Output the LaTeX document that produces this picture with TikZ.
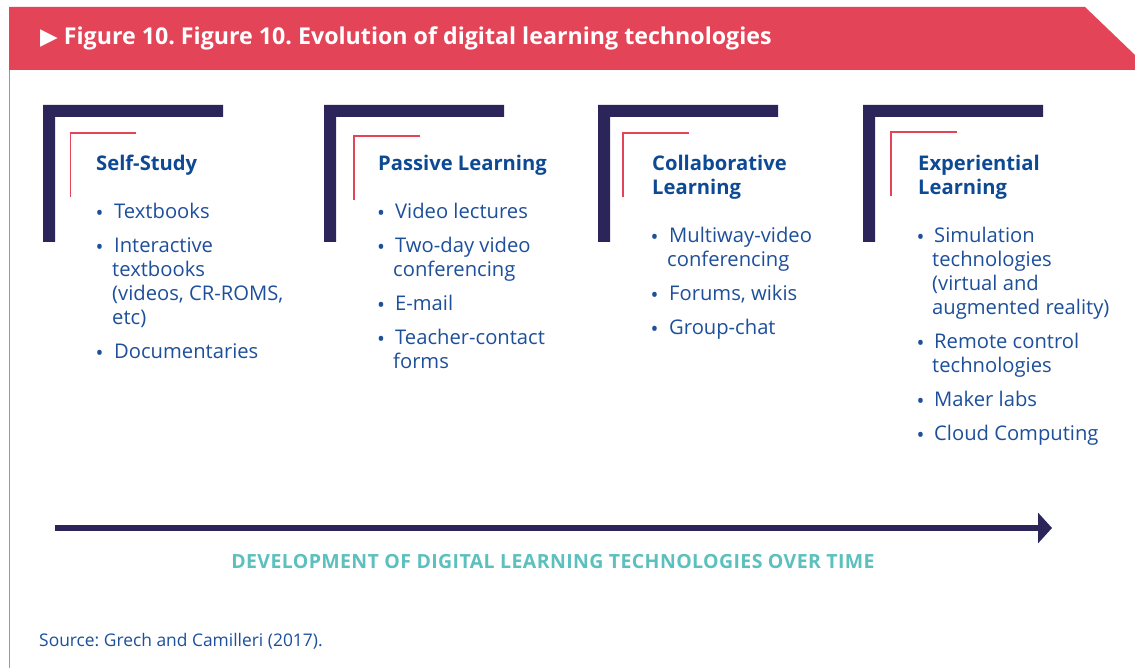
\documentclass[tikz,border=0pt]{standalone}
\usepackage{fontspec}
\setmainfont{Open Sans}
\newfontfamily\symfont{DejaVu Sans}
\usetikzlibrary{arrows.meta}
\frenchspacing
\definecolor{navy}{HTML}{2B2559}
\definecolor{banred}{HTML}{E34457}
\definecolor{txtblue}{HTML}{1D4F9B}
\definecolor{headblue}{HTML}{0E4A94}
\definecolor{tealc}{HTML}{5BC0BE}
\tikzset{
  bracket/.pic={\fill[navy] (0,0) -- (180,0) -- (180,12) -- (12,12) -- (12,137) -- (0,137) -- cycle;},
  redl/.pic={\draw[banred, line width=1.3pt] (0,64) -- (0,0) -- (65.5,0);},
  head/.style={anchor=north west, inner sep=0pt, align=left, text=headblue,
    font=\bfseries\fontsize{20.2}{24}\selectfont},
  item/.style={anchor=north west, inner sep=0pt, align=left, text=txtblue,
    font=\fontsize{20.2}{24}\selectfont},
  bul/.style={anchor=base, inner sep=0pt, text=txtblue, font=\fontsize{21}{24}\selectfont},
}
\begin{document}
\begin{tikzpicture}[x=1pt,y=-1pt]
\useasboundingbox (0,0) rectangle (1135,668);
\fill[white] (0,0) rectangle (1135,668);
% banner
\fill[banred] (9,7) -- (1085,7) -- (1135,55) -- (1135,70) -- (9,70) -- cycle;
\draw[banred!75, line width=1pt] (9.5,70) -- (9.5,668);
\node[anchor=base west, inner sep=0pt, text=white, font=\bfseries\fontsize{23.2}{26}\selectfont] (title) at (40,45)
  {{\symfont\fontsize{23}{24}\selectfont ▶}\hspace{6pt}Figure 10. Figure 10. Evolution of digital learning technologies};
% brackets
\pic at (43,105) {bracket};
\pic at (324,105) {bracket};
\pic at (598,105) {bracket};
\pic at (863,105) {bracket};
\pic at (70.5,133) {redl};
\pic at (354,136) {redl};
\pic at (623,133) {redl};
\pic at (891,132) {redl};
% column 1
\node[head] (h1) at (96,153.2) {\strut Self-Study};
\node[bul] (b11) at (99.5,220.5) {•};
\node[item] (i11) at (112,201.2) {\strut\hspace{2pt}Textbooks};
\node[bul] (b12) at (99.5,254.5) {•};
\node[item] (i12) at (112,235.2) {\strut\hspace{2pt}Interactive\\textbooks\\(videos, CR-ROMS,\\etc)};
\node[bul] (b13) at (99.5,360.5) {•};
\node[item] (i13) at (112,341.2) {\strut\hspace{2pt}Documentaries};
% column 2
\node[head] (h2) at (378,153.2) {\strut Passive Learning};
\node[bul] (b21) at (381,220.5) {•};
\node[item] (i21) at (393,201.2) {\strut\hspace{2pt}Video lectures};
\node[bul] (b22) at (381,254.5) {•};
\node[item] (i22) at (393,235.2) {\strut\hspace{2pt}Two-day video\\conferencing};
\node[bul] (b23) at (381,312.5) {•};
\node[item] (i23) at (393,293.2) {\strut\hspace{2pt}E-mail};
\node[bul] (b24) at (381,346.5) {•};
\node[item] (i24) at (393,327.2) {\strut\hspace{2pt}Teacher-contact\\forms};
% column 3
\node[head] (h3) at (652,153.2) {\strut Collaborative\\Learning};
\node[bul] (b31) at (654.5,244.5) {•};
\node[item] (i31) at (667,225.2) {\strut\hspace{2pt}Multiway-video\\conferencing};
\node[bul] (b32) at (654.5,302.5) {•};
\node[item] (i32) at (667,283.2) {\strut\hspace{2pt}Forums, wikis};
\node[bul] (b33) at (654.5,336.5) {•};
\node[item] (i33) at (667,317.2) {\strut\hspace{2pt}Group-chat};
% column 4
\node[head] (h4) at (918,153.2) {\strut Experiential\\Learning};
\node[bul] (b41) at (920.5,244.5) {•};
\node[item] (i41) at (932,225.2) {\strut\hspace{2pt}Simulation\\technologies\\(virtual and\\augmented reality)};
\node[bul] (b42) at (920.5,350.5) {•};
\node[item] (i42) at (932,331.2) {\strut\hspace{2pt}Remote control\\technologies};
\node[bul] (b43) at (920.5,408.5) {•};
\node[item] (i43) at (932,389.2) {\strut\hspace{2pt}Maker labs};
\node[bul] (b44) at (920.5,442.5) {•};
\node[item] (i44) at (932,423.2) {\strut\hspace{2pt}Cloud Computing};
% timeline arrow
\coordinate (arrS) at (55,528);
\coordinate (arrE) at (1052,528);
\draw[navy, line width=6pt, -{Triangle[length=14pt,width=30pt]}] (arrS) -- (arrE);
\node[anchor=base, inner sep=0pt, text=tealc, font=\bfseries\fontsize{19.5}{22}\selectfont\addfontfeatures{LetterSpace=2}] (dev) at (553,568)
  {DEVELOPMENT OF DIGITAL LEARNING TECHNOLOGIES OVER TIME};
\node[anchor=base west, inner sep=0pt, text=txtblue, font=\fontsize{17.4}{20}\selectfont] (src) at (39,646)
  {Source: Grech and Camilleri (2017).};
\end{tikzpicture}
\end{document}
